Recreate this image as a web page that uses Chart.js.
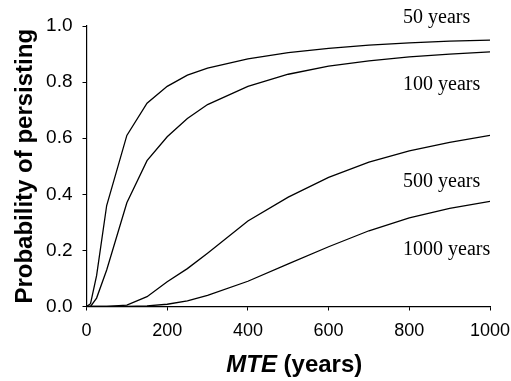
<!DOCTYPE html>
<html>
<head>
<meta charset="utf-8">
<script src="https://cdn.jsdelivr.net/npm/chart.js@4"></script>
<style>
  html, body { margin: 0; padding: 0; background: #fff; }
  #wrap { width: 511px; height: 381px; }
</style>
</head>
<body>
<div id="wrap"><canvas id="persist-chart" width="511" height="381"></canvas></div>
<script>
    // MTE values (years) and probability of persisting for each time horizon
    const mteYears = [0, 10, 25, 50, 100, 150, 200, 250, 300, 400, 500, 600, 700, 800, 900, 1000];
    const years50 = [0, 0.01, 0.11, 0.36, 0.61, 0.725, 0.785, 0.825, 0.85, 0.883, 0.905, 0.92, 0.932, 0.94, 0.946, 0.95];
    const years100 = [0, 0, 0.03, 0.13, 0.37, 0.52, 0.605, 0.67, 0.72, 0.785, 0.828, 0.857, 0.876, 0.89, 0.9, 0.908];
    const years500 = [0, 0, 0, 0, 0.005, 0.035, 0.088, 0.135, 0.19, 0.305, 0.39, 0.46, 0.515, 0.555, 0.585, 0.61];
    const years1000 = [0, 0, 0, 0, 0, 0.002, 0.008, 0.02, 0.04, 0.09, 0.152, 0.213, 0.27, 0.316, 0.35, 0.375];
    const seriesNames = ['50 years', '100 years', '500 years', '1000 years'];
    const xTicks = [0, 200, 400, 600, 800, 1000];
    const yTicks = [0, 0.2, 0.4, 0.6, 0.8, 1.0];

    const sansFont = "'Liberation Sans', Arial, sans-serif";
    const serifFont = "'Liberation Serif', 'Times New Roman', serif";

    function toPoints(ys) {
        return ys.map((y, i) => ({ x: mteYears[i], y: y }));
    }

    // where each curve label sits (pixels from the chart area's right / top)
    const labelSpots = [
        { dx: 87, y: 23 },
        { dx: 87, y: 90 },
        { dx: 87, y: 187 },
        { dx: 87, y: 255 }
    ];

    const textPlugin = {
        id: 'textPlugin',
        afterDraw(chart) {
            const ctx = chart.ctx;
            const area = chart.chartArea;
            ctx.save();
            ctx.fillStyle = '#000';

            // curve labels
            ctx.font = '20px ' + serifFont;
            ctx.textAlign = 'left';
            ctx.textBaseline = 'alphabetic';
            seriesNames.forEach((name, i) => {
                ctx.fillText(name, area.right - labelSpots[i].dx, labelSpots[i].y);
            });

            // x axis title: "MTE" italic bold, "(years)" bold
            const cx = (area.left + area.right) / 2 + 6;
            const part1 = 'MTE';
            const part2 = ' (years)';
            ctx.font = 'italic bold 24px ' + sansFont;
            const w1 = ctx.measureText(part1).width;
            ctx.font = 'bold 24px ' + sansFont;
            const w2 = ctx.measureText(part2).width;
            let x0 = cx - (w1 + w2) / 2;
            ctx.font = 'italic bold 24px ' + sansFont;
            ctx.fillText(part1, x0, 372);
            ctx.font = 'bold 24px ' + sansFont;
            ctx.fillText(part2, x0 + w1, 372);

            // y axis title
            ctx.translate(32, (area.top + area.bottom) / 2);
            ctx.rotate(-Math.PI / 2);
            ctx.textAlign = 'center';
            ctx.font = 'bold 24px ' + sansFont;
            ctx.fillText('Probability of persisting', 0, 0);
            ctx.restore();
        }
    };

    const lineStyle = { borderColor: '#000', borderWidth: 1.3, pointRadius: 0, tension: 0, fill: false };

    new Chart(document.getElementById('persist-chart'), {
        type: 'line',
        data: {
            datasets: [
                { label: seriesNames[0], data: toPoints(years50), ...lineStyle },
                { label: seriesNames[1], data: toPoints(years100), ...lineStyle },
                { label: seriesNames[2], data: toPoints(years500), ...lineStyle },
                { label: seriesNames[3], data: toPoints(years1000), ...lineStyle }
            ]
        },
        options: {
            responsive: false,
            animation: false,
            devicePixelRatio: 1,
            layout: { padding: { left: 0, right: 21, top: 26, bottom: 0 } },
            plugins: {
                legend: { display: false },
                tooltip: { enabled: false }
            },
            scales: {
                x: {
                    type: 'linear',
                    min: 0,
                    max: 1000,
                    afterBuildTicks: scale => { scale.ticks = xTicks.map(v => ({ value: v })); },
                    afterFit: scale => {
                        scale.height = 74.5;
                        scale.paddingLeft = 0;
                        scale.paddingRight = 0;
                    },
                    grid: { display: true, drawOnChartArea: false, color: '#000', tickLength: 4 },
                    border: { color: '#000', width: 1.2 },
                    ticks: {
                        color: '#000',
                        font: { family: sansFont, size: 18 },
                        padding: 10,
                        maxRotation: 0,
                        callback: v => String(v)
                    }
                },
                y: {
                    min: 0,
                    max: 1,
                    afterBuildTicks: scale => { scale.ticks = yTicks.map(v => ({ value: v })); },
                    afterFit: scale => {
                        scale.width = 86.5;
                        scale.paddingTop = 0;
                        scale.paddingBottom = 0;
                    },
                    grid: { display: true, drawOnChartArea: false, color: '#000', tickLength: 4 },
                    border: { color: '#000', width: 1.2 },
                    ticks: {
                        color: '#000',
                        font: { family: sansFont, size: 19 },
                        padding: 10,
                        callback: v => v.toFixed(1)
                    }
                }
            }
        },
        plugins: [textPlugin]
    });
</script>
</body>
</html>
